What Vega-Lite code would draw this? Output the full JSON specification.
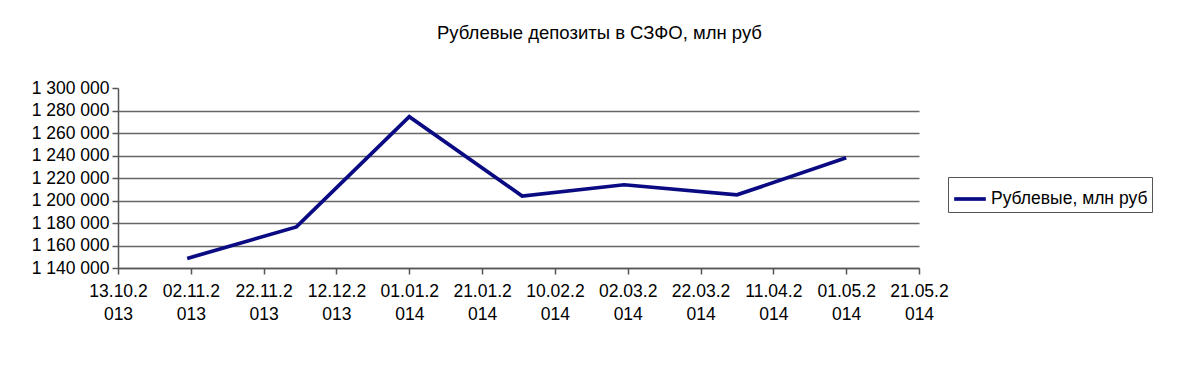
{
  "$schema": "https://vega.github.io/schema/vega-lite/v6.json",
  "autosize": "none",
  "width": 801,
  "height": 180,
  "padding": {"left": 118, "top": 88, "right": 281, "bottom": 100},
  "background": "white",
  "config": {
    "font": "Liberation Sans",
    "view": {"stroke": null},
    "locale": {"number": {"decimal": ",", "thousands": " ", "grouping": [3], "currency": ["", ""]}}
  },
  "title": {
    "text": "Рублевые депозиты в СЗФО, млн руб",
    "fontSize": 18.5,
    "fontWeight": "normal",
    "color": "#000",
    "anchor": "middle",
    "dx": 81,
    "offset": 37
  },
  "data": {
    "values": [
      {"date": "2013-11-01", "value": 1148500, "series": "Рублевые, млн руб"},
      {"date": "2013-12-01", "value": 1176500, "series": "Рублевые, млн руб"},
      {"date": "2014-01-01", "value": 1274500, "series": "Рублевые, млн руб"},
      {"date": "2014-02-01", "value": 1204000, "series": "Рублевые, млн руб"},
      {"date": "2014-03-01", "value": 1214000, "series": "Рублевые, млн руб"},
      {"date": "2014-04-01", "value": 1205000, "series": "Рублевые, млн руб"},
      {"date": "2014-05-01", "value": 1238000, "series": "Рублевые, млн руб"}
    ]
  },
  "mark": {"type": "line", "strokeWidth": 3.7, "strokeJoin": "miter"},
  "encoding": {
    "x": {
      "field": "date",
      "type": "temporal",
      "scale": {
        "type": "utc",
        "domain": [
          {"year": 2013, "month": 10, "date": 13, "utc": true},
          {"year": 2014, "month": 5, "date": 21, "utc": true}
        ]
      },
      "axis": {
        "title": null,
        "values": [
          {"year": 2013, "month": 10, "date": 13, "utc": true},
          {"year": 2013, "month": 11, "date": 2, "utc": true},
          {"year": 2013, "month": 11, "date": 22, "utc": true},
          {"year": 2013, "month": 12, "date": 12, "utc": true},
          {"year": 2014, "month": 1, "date": 1, "utc": true},
          {"year": 2014, "month": 1, "date": 21, "utc": true},
          {"year": 2014, "month": 2, "date": 10, "utc": true},
          {"year": 2014, "month": 3, "date": 2, "utc": true},
          {"year": 2014, "month": 3, "date": 22, "utc": true},
          {"year": 2014, "month": 4, "date": 11, "utc": true},
          {"year": 2014, "month": 5, "date": 1, "utc": true},
          {"year": 2014, "month": 5, "date": 21, "utc": true}
        ],
        "labelExpr": "[slice(utcFormat(datum.value, '%d.%m.%Y'), 0, 7), slice(utcFormat(datum.value, '%d.%m.%Y'), 7)]",
        "labelFontSize": 17.5,
        "labelColor": "#000",
        "labelLineHeight": 23,
        "labelPadding": 8,
        "labelAngle": 0,
        "labelAlign": "center",
        "labelOverlap": false,
        "labelFlush": false,
        "labelBaseline": "top",
        "grid": false,
        "domainColor": "#555",
        "domainWidth": 1.5,
        "tickColor": "#555",
        "tickWidth": 1.5,
        "tickSize": 6
      }
    },
    "y": {
      "field": "value",
      "type": "quantitative",
      "scale": {"domain": [1140000, 1300000], "nice": false, "zero": false},
      "axis": {
        "title": null,
        "values": [1140000, 1160000, 1180000, 1200000, 1220000, 1240000, 1260000, 1280000, 1300000],
        "format": ",d",
        "labelFontSize": 17.5,
        "labelColor": "#000",
        "labelPadding": 3,
        "grid": true,
        "gridColor": "#666",
        "gridWidth": 1.5,
        "gridOpacity": {"condition": {"test": "datum.value == 1300000", "value": 0}, "value": 1},
        "domainColor": "#555",
        "domainWidth": 1.5,
        "tickColor": "#555",
        "tickWidth": 1.5,
        "tickSize": 6
      }
    },
    "color": {
      "field": "series",
      "type": "nominal",
      "scale": {"range": ["#0a0a82"]},
      "legend": {
        "title": null,
        "orient": "none",
        "legendX": 830,
        "legendY": 89,
        "symbolType": "stroke",
        "symbolStrokeWidth": 3.7,
        "symbolSize": 1000,
        "labelFontSize": 17.5,
        "labelLimit": 400,
        "labelColor": "#000",
        "labelOffset": 3,
        "strokeColor": "#555",
        "padding": 4,
        "fillColor": "white"
      }
    }
  }
}
